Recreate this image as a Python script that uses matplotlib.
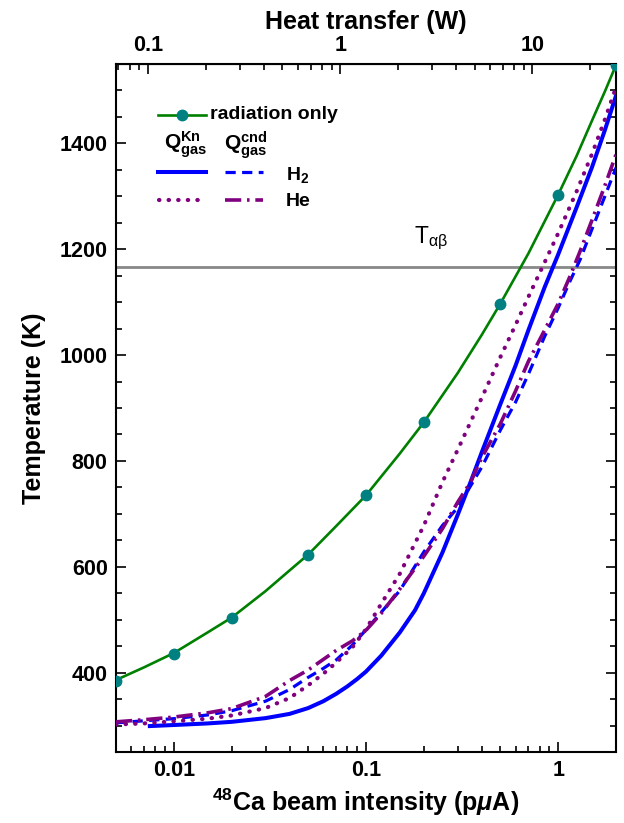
import matplotlib
matplotlib.use("Agg")
import matplotlib.pyplot as plt
from matplotlib.lines import Line2D
from matplotlib.ticker import FixedLocator, MultipleLocator, FuncFormatter, NullFormatter, LogLocator

plt.rcParams['font.family'] = ['Liberation Sans', 'DejaVu Sans']
plt.rcParams['mathtext.fontset'] = 'custom'
plt.rcParams['mathtext.rm'] = 'Liberation Sans'
plt.rcParams['mathtext.bf'] = 'Liberation Sans:bold'
plt.rcParams['mathtext.it'] = 'Liberation Sans:italic:bold'

# ---- data ----
rad_I_marks = [0.005, 0.01, 0.02, 0.05, 0.1, 0.2, 0.5, 1, 2]
rad_T_marks = [385, 436, 504, 623, 735, 873, 1097, 1303, 1548]
rad_I_line = [0.005, 0.007, 0.01, 0.015, 0.02, 0.03, 0.04, 0.05, 0.07, 0.1, 0.15, 0.2,
              0.3, 0.4, 0.5, 0.7, 1, 1.25, 1.5, 1.75, 2]
rad_T_line = [386, 410, 437, 476, 504, 554, 593, 623, 677, 735, 814, 873,
              966, 1038, 1097, 1192, 1303, 1377, 1443, 1498, 1548]

h2_kn_I = [0.0075, 0.01, 0.015, 0.02, 0.03, 0.04, 0.05, 0.06, 0.07, 0.08, 0.09, 0.1, 0.12,
           0.15, 0.18, 0.2, 0.25, 0.3, 0.35, 0.4, 0.5, 0.6, 0.7, 0.85, 1, 1.25, 1.5, 1.75, 2]
h2_kn_T = [299, 301, 304, 307, 314, 322, 333, 346, 360, 374, 388, 402, 432,
           476, 518, 550, 627, 698, 760, 816, 907, 980, 1047, 1128, 1190, 1280, 1355, 1425, 1490]

h2_cnd_I = [0.005, 0.007, 0.01, 0.015, 0.02, 0.03, 0.04, 0.05, 0.06, 0.07, 0.085, 0.1, 0.12,
            0.15, 0.2, 0.25, 0.3, 0.4, 0.5, 0.6, 0.7, 0.85, 1, 1.15, 1.3, 1.5, 1.75, 2]
h2_cnd_T = [305, 309, 313, 320, 328, 346, 368, 391, 408, 424, 452, 481, 514,
            555, 628, 678, 712, 788, 858, 911, 964, 1035, 1089, 1139, 1180, 1238, 1300, 1354]

he_kn_I = [0.005, 0.007, 0.01, 0.015, 0.02, 0.03, 0.04, 0.05, 0.06, 0.07, 0.085, 0.1, 0.12,
           0.15, 0.2, 0.25, 0.3, 0.4, 0.5, 0.6, 0.7, 0.85, 1, 1.25, 1.5, 1.75, 2]
he_kn_T = [302, 304, 308, 313, 319, 333, 352, 376, 398, 419, 448, 482, 530,
           587, 678, 760, 821, 919, 996, 1057, 1110, 1175, 1230, 1310, 1380, 1445, 1506]

he_cnd_I = [0.005, 0.007, 0.01, 0.015, 0.02, 0.03, 0.04, 0.05, 0.06, 0.07, 0.085, 0.1, 0.12,
            0.15, 0.2, 0.25, 0.3, 0.35, 0.4, 0.5, 0.6, 0.7, 0.85, 1, 1.15, 1.3, 1.5, 1.75, 2]
he_cnd_T = [307, 311, 316, 324, 332, 355, 385, 405, 425, 442, 460, 480, 512,
            558, 620, 672, 722, 760, 806, 870, 932, 988, 1047, 1097, 1148, 1196, 1255, 1320, 1379]

T_alpha_beta = 1167
heat_per_intensity = 13.6  # W per pμA (top axis scale)

x_ticks = [0.01, 0.1, 1]
y_ticks = [400, 600, 800, 1000, 1200, 1400]
top_ticks = [0.1, 1, 10]

# ---- figure ----
fig = plt.figure(figsize=(6.24, 8.23), dpi=100)
ax = fig.add_axes([116/624, 1-752/823, 500/624, 688/823])

green = '#008000'
teal = '#008080'
blue = '#0000FF'
purple = '#800080'

LW_G, LW_S, LW_D, LW_DOT, LW_DD = 1.9, 2.9, 2.3, 3.0, 2.6
DASH = (0, (3.2, 2.0))
DOT = (0, (0.1, 2.2))
DASHDOT = (0, (4.5, 1.6, 0.7, 1.6))

ax.plot(rad_I_line, rad_T_line, color=green, lw=LW_G, zorder=3)
ax.plot(rad_I_marks, rad_T_marks, ls='none', marker='o', ms=7.5, color=teal, zorder=4)

ax.plot(h2_kn_I, h2_kn_T, color=blue, lw=LW_S, zorder=3)
ax.plot(h2_cnd_I, h2_cnd_T, color=blue, lw=LW_D, ls=DASH, zorder=3)
ax.plot(he_kn_I, he_kn_T, color=purple, lw=LW_DOT, ls=DOT, dash_capstyle='round', zorder=3)
ax.plot(he_cnd_I, he_cnd_T, color=purple, lw=LW_DD, ls=DASHDOT, zorder=3)

ax.axhline(T_alpha_beta, color='#888888', lw=2, zorder=2)
ax.text(0.596, 0.746, r'T$_{\mathrm{αβ}}$', transform=ax.transAxes, fontsize=16.5,
        ha='left', va='center')

ax.set_xscale('log')
ax.set_xlim(0.005, 2)
ax.set_ylim(250, 1550)

ax.xaxis.set_major_locator(FixedLocator(x_ticks))
ax.xaxis.set_major_formatter(FuncFormatter(lambda v, p: '%g' % v))
ax.xaxis.set_minor_locator(LogLocator(base=10, subs=range(2, 10), numticks=20))
ax.xaxis.set_minor_formatter(NullFormatter())
ax.yaxis.set_major_locator(FixedLocator(y_ticks))
ax.yaxis.set_minor_locator(MultipleLocator(50))

ax.tick_params(which='both', direction='in', right=True, top=False, labelsize=15.5, width=1.2)
ax.tick_params(which='major', length=7, pad=6)
ax.tick_params(which='minor', length=4)
for lbl in ax.get_xticklabels() + ax.get_yticklabels():
    lbl.set_fontweight('bold')
for s in ax.spines.values():
    s.set_linewidth(1.5)

ax.set_xlabel(r'$^{\mathbf{48}}$Ca beam intensity (p$\mu$A)', fontsize=18, fontweight='bold', labelpad=4)
ax.set_ylabel('Temperature (K)', fontsize=18, fontweight='bold', labelpad=10)

sec = ax.secondary_xaxis('top', functions=(lambda x: x*heat_per_intensity,
                                           lambda x: x/heat_per_intensity))
sec.xaxis.set_major_locator(FixedLocator(top_ticks))
sec.xaxis.set_major_formatter(FuncFormatter(lambda v, p: '%g' % v))
sec.xaxis.set_minor_locator(LogLocator(base=10, subs=range(2, 10), numticks=20))
sec.xaxis.set_minor_formatter(NullFormatter())
sec.tick_params(which='both', direction='in', labelsize=15.5, width=1.2)
sec.tick_params(which='major', length=7, pad=6)
sec.tick_params(which='minor', length=4)
for lbl in sec.get_xticklabels():
    lbl.set_fontweight('bold')
sec.set_xlabel('Heat transfer (W)', fontsize=18, fontweight='bold', labelpad=4)

# ---- legend (custom layout) ----
tr = ax.transAxes
def seg(x0, x1, y, **kw):
    ax.add_line(Line2D([x0, x1], [y, y], transform=tr, **kw))

seg(0.084, 0.180, 0.926, color=green, lw=LW_G)
ax.plot([0.132], [0.926], transform=tr, marker='o', ms=7.5, color=teal)
ax.text(0.188, 0.926, 'radiation only', transform=tr, fontsize=14, fontweight='bold', va='center')
ax.text(0.096, 0.882, r'$\mathbf{Q}^{\mathbf{Kn}}_{\mathbf{gas}}$', transform=tr, fontsize=15, va='center')
ax.text(0.216, 0.882, r'$\mathbf{Q}^{\mathbf{cnd}}_{\mathbf{gas}}$', transform=tr, fontsize=15, va='center')

seg(0.084, 0.180, 0.843, color=blue, lw=LW_S)
seg(0.218, 0.294, 0.843, color=blue, lw=LW_D, ls=DASH)
ax.text(0.340, 0.838, r'H$_\mathbf{2}$', transform=tr, fontsize=14, fontweight='bold', va='center')

seg(0.086, 0.172, 0.802, color=purple, lw=LW_DOT, ls=DOT, dash_capstyle='round')
seg(0.218, 0.294, 0.802, color=purple, lw=LW_DD, ls=DASHDOT)
ax.text(0.340, 0.800, 'He', transform=tr, fontsize=14, fontweight='bold', va='center')

fig.savefig('out.png', dpi=100)
